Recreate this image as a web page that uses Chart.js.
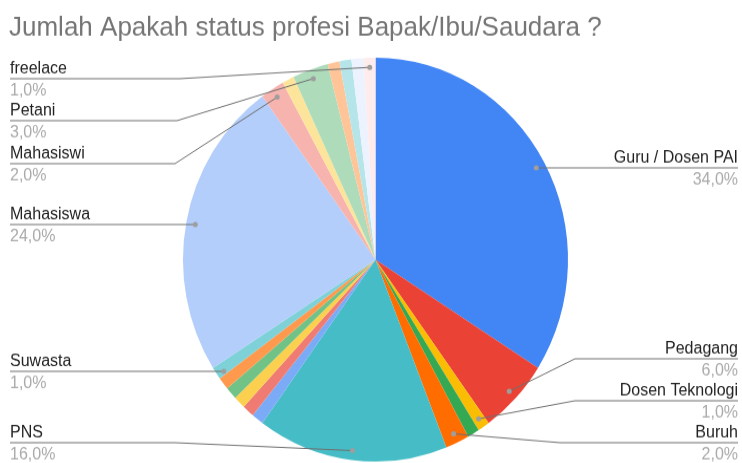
<!DOCTYPE html>
<html>
<head>
<meta charset="utf-8">
<script src="https://cdn.jsdelivr.net/npm/chart.js@4/dist/chart.umd.min.js"></script>
<style>
  html, body { margin: 0; padding: 0; background: #fff; overflow: hidden; width: 742px; height: 463px; }
  #wrap { position: relative; width: 742px; height: 463px; }
  #pie { position: absolute; left: 0; top: 0; transform: scaleY(1.049); transform-origin: 0 0; }
</style>
</head>
<body>
<div id="wrap"><canvas id="pie" width="742" height="441"></canvas></div>
<script>
// data (clockwise from 12 o'clock)
var categories = [
  'Guru / Dosen PAI', 'Pedagang', 'Dosen Teknologi', 'Lainnya 1', 'Buruh', 'PNS',
  'Lainnya 2', 'Lainnya 3', 'Lainnya 4', 'Lainnya 5', 'Lainnya 6', 'Suwasta',
  'Mahasiswa', 'Mahasiswi', 'Lainnya 7', 'Petani', 'Lainnya 8', 'Lainnya 9',
  'Lainnya 10', 'freelace'
];
var values = [34, 6, 1, 1, 2, 16, 1, 1, 1, 1, 1, 1, 24, 2, 1, 3, 1, 1, 1, 1];
var colors = [
  '#4285f4', '#ea4335', '#fbbc04', '#34a853', '#ff6d01', '#46bdc6',
  '#7baaf7', '#f07b72', '#fcd04f', '#71c287', '#ff994d', '#7ed1d7',
  '#b3cefb', '#f7b4ae', '#fde49b', '#aedcba', '#ffc599', '#b5e5e8',
  '#ecf3fe', '#fdeceb'
];
var shownLabels = ['Guru / Dosen PAI', 'Pedagang', 'Dosen Teknologi', 'Buruh', 'PNS',
  'Suwasta', 'Mahasiswa', 'Mahasiswi', 'Petani', 'freelace'];
var title = 'Jumlah Apakah status profesi Bapak/Ibu/Saudara ?';

// where each label sits (side, line y, elbow x)
var labelPlace = {
  'Guru / Dosen PAI': { side: 'right', y: 160, elbow: null },
  'Pedagang':         { side: 'right', y: 342, elbow: 575 },
  'Dosen Teknologi':  { side: 'right', y: 382, elbow: 575 },
  'Buruh':            { side: 'right', y: 422, elbow: 560 },
  'PNS':              { side: 'left',  y: 422, elbow: 175 },
  'Suwasta':          { side: 'left',  y: 354, elbow: null },
  'Mahasiswa':        { side: 'left',  y: 214, elbow: null },
  'Mahasiswi':        { side: 'left',  y: 156, elbow: 175 },
  'Petani':           { side: 'left',  y: 115, elbow: 177 },
  'freelace':         { side: 'left',  y: 75,  elbow: 180 }
};

var total = values.reduce(function(a, b) { return a + b; }, 0);

var leaderLabels = {
  id: 'leaderLabels',
  afterDraw: function(chart) {
    var ctx = chart.ctx;
    var meta = chart.getDatasetMeta(0);
    ctx.save();
    ctx.font = '26px "Liberation Sans", Arial, sans-serif';
    ctx.fillStyle = '#757575';
    ctx.textAlign = 'left';
    ctx.textBaseline = 'alphabetic';
    ctx.fillText(title, 9, 34);

    shownLabels.forEach(function(name) {
      var i = categories.indexOf(name);
      var p = labelPlace[name];
      var arc = meta.data[i];
      var mid = (arc.startAngle + arc.endAngle) / 2;
      var ax = arc.x + Math.cos(mid) * arc.outerRadius * 0.953;
      var ay = arc.y + Math.sin(mid) * arc.outerRadius * 0.953;
      var edge = p.side === 'left' ? 10 : 738;

      ctx.strokeStyle = '#6f6f6f';
      ctx.lineWidth = 1;
      ctx.beginPath();
      ctx.moveTo(edge, p.y);
      if (p.elbow) ctx.lineTo(p.elbow, p.y);
      ctx.lineTo(ax, p.elbow ? ay : p.y);
      ctx.stroke();

      ctx.fillStyle = '#9e9e9e';
      ctx.beginPath();
      ctx.arc(ax, p.elbow ? ay : p.y, 2.5, 0, Math.PI * 2);
      ctx.fill();

      ctx.textAlign = p.side === 'left' ? 'left' : 'right';
      ctx.font = '16px "Liberation Sans", Arial, sans-serif';
      ctx.fillStyle = '#222222';
      ctx.fillText(name, edge, p.y - 5);
      ctx.fillStyle = '#aaaaaa';
      var pct = (values[i] / total * 100).toFixed(1).replace('.', ',') + '%';
      ctx.fillText(pct, edge, p.y + 16);
    });
    ctx.restore();
  }
};

new Chart(document.getElementById('pie').getContext('2d'), {
  type: 'pie',
  data: {
    labels: categories,
    datasets: [{
      data: values,
      backgroundColor: colors,
      borderWidth: 0
    }]
  },
  options: {
    responsive: false,
    animation: false,
    layout: { padding: { left: 183, right: 174, top: 55, bottom: 1 } },
    plugins: {
      legend: { display: false },
      tooltip: { enabled: false },
      title: { display: false }
    }
  },
  plugins: [leaderLabels]
});
</script>
</body>
</html>
